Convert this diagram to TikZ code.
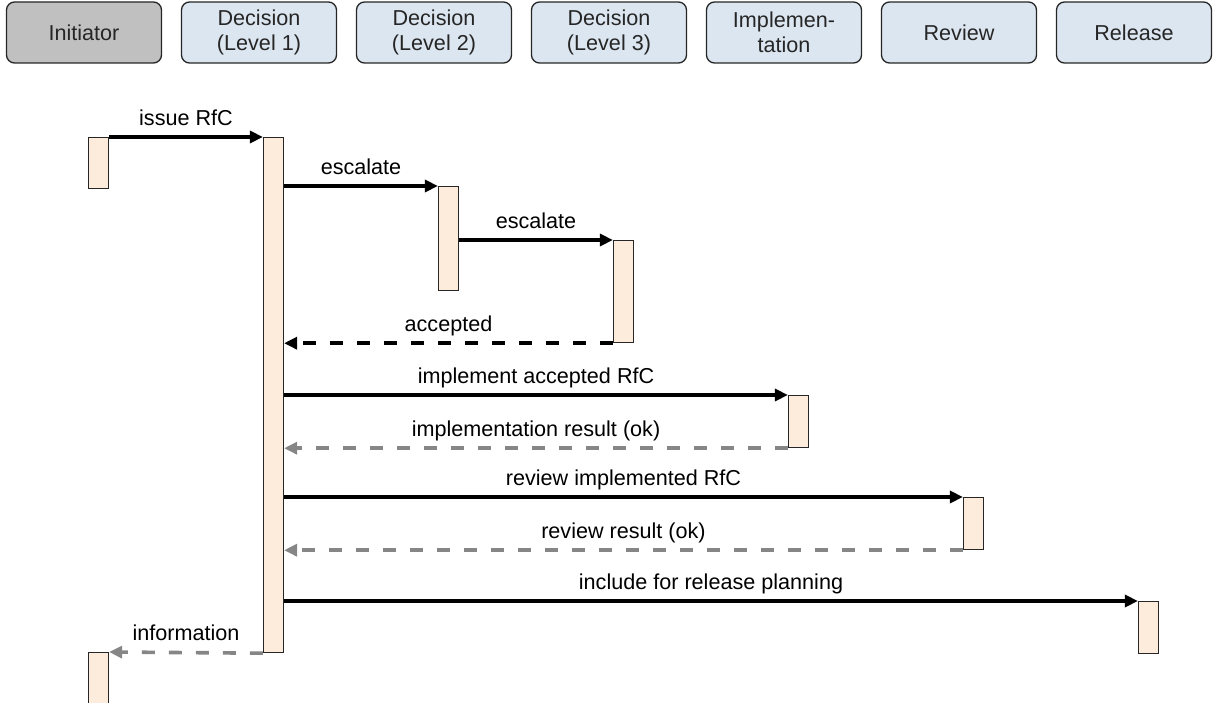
\documentclass[tikz,border=0pt]{standalone}
\usepackage{fontspec}
\setmainfont{Liberation Sans}
\usetikzlibrary{arrows.meta}
\definecolor{headfill}{HTML}{DCE6F0}
\definecolor{initfill}{HTML}{C0C0C0}
\definecolor{barfill}{HTML}{FDEBDB}
\definecolor{replygray}{HTML}{868686}
\definecolor{edgegray}{HTML}{262626}

\begin{document}
\begin{tikzpicture}[x=1pt,y=-1pt,
  font=\fontsize{21.6}{24.5}\selectfont,
  head/.style={draw=edgegray, line width=1.3pt, rounded corners=8pt, fill=headfill,
    minimum width=155pt, minimum height=61pt, align=center, inner sep=0pt, text=black!85},
  bar/.style={draw=edgegray, line width=1.2pt, fill=barfill, minimum width=20pt,
    inner sep=0pt, anchor=north},
  msg/.style={line width=3.6pt, -{Triangle[length=13pt,width=12pt]}},
  answer/.style={msg, dash pattern=on 13pt off 14pt},
  grayanswer/.style={answer, draw=replygray, color=replygray},
  lbl/.style={midway, above=5pt, inner sep=0pt, text height=15pt, text depth=5pt, text=black}
]
\useasboundingbox (0,0) rectangle (1213,703);

% lifeline headers
\node[head, fill=initfill] (hinit) at (84,32.5) {Initiator};
\node[head] (hd1) at (259,32.5) {Decision\\(Level 1)};
\node[head] (hd2) at (434,32.5) {Decision\\(Level 2)};
\node[head] (hd3) at (609,32.5) {Decision\\(Level 3)};
\node[head] (himpl) at (784,32.5) {Implemen-\\tation};
\node[head] (hrev) at (959,32.5) {Review};
\node[head] (hrel) at (1134,32.5) {Release};

% activation bars
\node[bar, minimum height=51pt]  (i1)   at (98.5,137) {};
\node[bar, minimum height=515pt] (d1)   at (273.5,137) {};
\node[bar, minimum height=104pt] (d2)   at (448.5,186) {};
\node[bar, minimum height=102pt] (d3)   at (623.5,240) {};
\node[bar, minimum height=52pt]  (impl) at (798.5,395) {};
\node[bar, minimum height=52pt]  (rev)  at (973.5,497) {};
\node[bar, minimum height=52pt]  (rel)  at (1148.5,601) {};
\node[bar, minimum height=60pt]  (i2)   at (98.5,652) {};

% messages
\draw[msg] (i1.north east) -- node[lbl] {issue RfC} (d1.north west);
\draw[msg] (d1.east |- d2.north) -- node[lbl] {escalate} (d2.north west);
\draw[msg] (d2.east |- d3.north) -- node[lbl] {escalate} (d3.north west);
\draw[answer] (d3.south west) -- node[lbl] {accepted} (d1.east |- d3.south);
\draw[msg] (d1.east |- impl.north) -- node[lbl] {implement accepted RfC} (impl.north west);
\draw[grayanswer] (impl.south west) -- node[lbl] {implementation result (ok)} (d1.east |- impl.south);
\draw[msg] (d1.east |- rev.north) -- node[lbl] {review implemented RfC} (rev.north west);
\draw[grayanswer] (rev.south west) -- node[lbl] {review result (ok)} (d1.east |- rev.south);
\draw[msg] (d1.east |- rel.north) -- node[lbl] {include for release planning} (rel.north west);
\draw[grayanswer] (d1.south west) -- node[lbl] {information} (i2.north east);
\end{tikzpicture}
\end{document}
